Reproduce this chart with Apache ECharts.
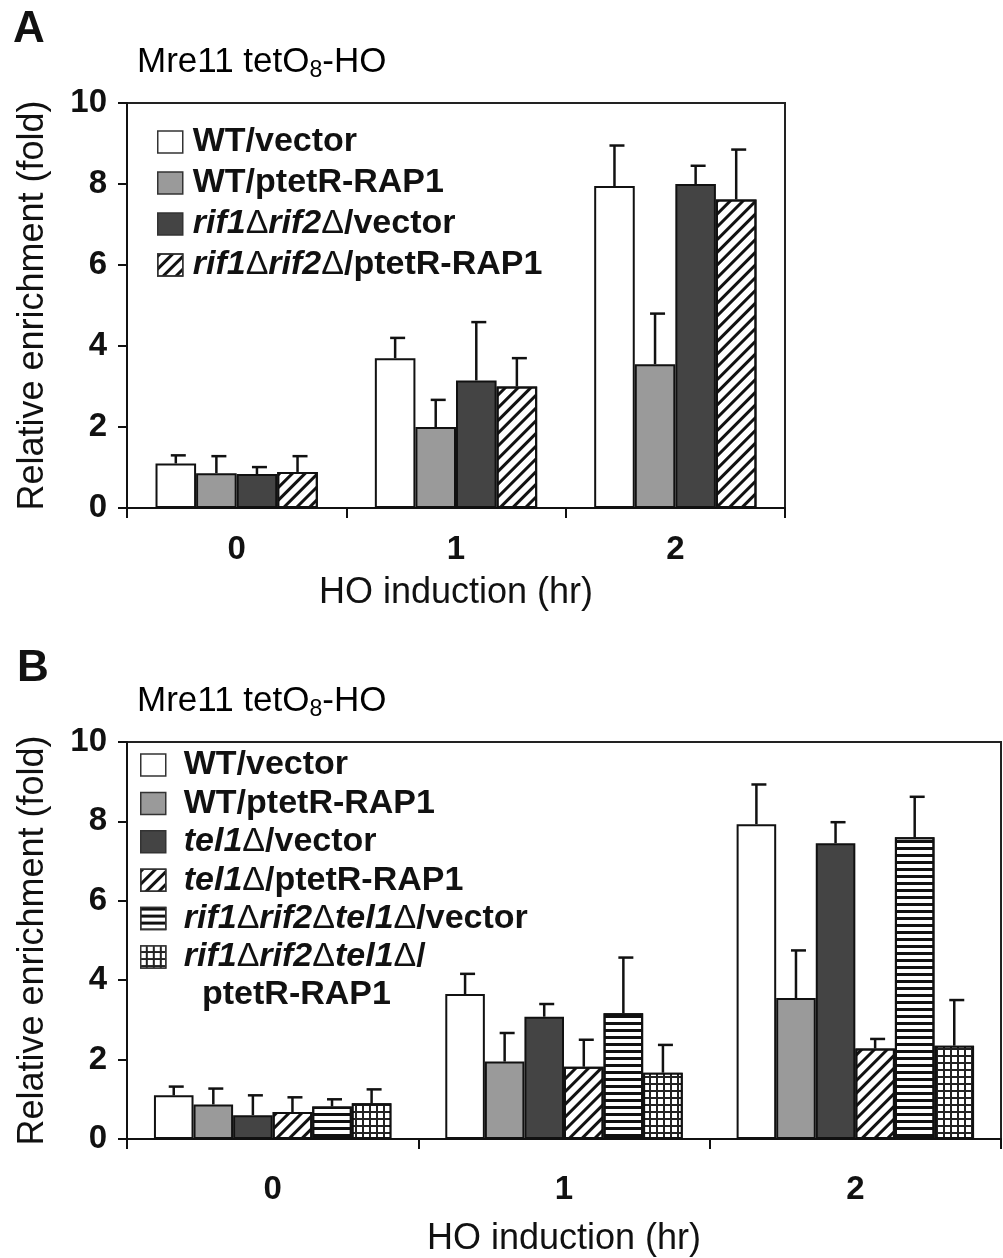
<!DOCTYPE html>
<html>
<head>
<meta charset="utf-8">
<script src="https://cdn.jsdelivr.net/npm/echarts@6/dist/echarts.min.js"></script>
<style>
  html, body { margin: 0; padding: 0; background: #fff; }
  #chart { width: 1003px; height: 1258px; }
</style>
</head>
<body>
<div id="chart"></div>
<script>
// HO induction time points (hr)
const categories = ['0', '1', '2'];

// Panel A: bar heights and upper error (fold)
const aNames = ['WT/vector', 'WT/ptetR-RAP1', 'rif1Δrif2Δ/vector', 'rif1Δrif2Δ/ptetR-RAP1'];
const aWtVector = [1.1, 3.7, 7.95];
const aWtVectorErr = [0.2, 0.5, 1.0];
const aWtRap1 = [0.86, 2.0, 3.55];
const aWtRap1Err = [0.42, 0.67, 1.25];
const aRifVector = [0.84, 3.15, 8.0];
const aRifVectorErr = [0.17, 1.44, 0.45];
const aRifRap1 = [0.89, 3.0, 7.62];
const aRifRap1Err = [0.39, 0.7, 1.23];

// Panel B
const bNames = ['WT/vector', 'WT/ptetR-RAP1', 'tel1Δ/vector', 'tel1Δ/ptetR-RAP1',
  'rif1Δrif2Δtel1Δ/vector', 'rif1Δrif2Δtel1Δ/ptetR-RAP1'];
const bWtVector = [1.1, 3.65, 7.93];
const bWtVectorErr = [0.22, 0.51, 1.0];
const bWtRap1 = [0.87, 1.95, 3.55];
const bWtRap1Err = [0.4, 0.72, 1.2];
const bTelVector = [0.6, 3.08, 7.45];
const bTelVectorErr = [0.5, 0.32, 0.53];
const bTelRap1 = [0.68, 1.82, 2.28];
const bTelRap1Err = [0.37, 0.68, 0.24];
const bTripleVector = [0.82, 3.17, 7.6];
const bTripleVectorErr = [0.18, 1.4, 1.02];
const bTripleRap1 = [0.9, 1.67, 2.35];
const bTripleRap1Err = [0.35, 0.7, 1.15];

const FONT = '"Liberation Sans", Arial, sans-serif';
const INK = '#111';

var chart = echarts.init(document.getElementById('chart'));

// fill styles
const fills = {
  white: { color: '#fff' },
  gray: { color: '#9a9a9a' },
  dark: { color: '#444' },
  diag: { color: '#fff', decal: { symbol: 'rect', symbolSize: 1, symbolKeepAspect: false, color: INK,
    dashArrayX: [1, 0], dashArrayY: [3, 6], rotation: -Math.PI / 4 } },
  hstripe: { color: '#fff', decal: { symbol: 'rect', symbolSize: 1, symbolKeepAspect: false, color: INK,
    dashArrayX: [1, 0], dashArrayY: [3, 4], rotation: 0 } },
  check: { color: '#222', decal: { symbol: 'rect', symbolSize: 1, symbolKeepAspect: false, color: '#fff',
    dashArrayX: [5, 2], dashArrayY: [5, 2], rotation: 0 } }
};

const gaps = [0.26, 0.185];

function barSeries(name, values, axis, fill) {
  return {
    name: name,
    type: 'bar',
    xAxisIndex: axis,
    yAxisIndex: axis,
    data: values,
    barGap: '0%',
    barCategoryGap: (gaps[axis] * 100) + '%',
    itemStyle: Object.assign({ borderColor: INK, borderWidth: 2 }, fill),
    emphasis: { disabled: true },
    z: 2
  };
}

function errSeries(values, errs, axis, idx, n) {
  return {
    name: 'err-' + axis + '-' + idx,
    type: 'custom',
    xAxisIndex: axis,
    yAxisIndex: axis,
    data: values.map((v, i) => [i, v, errs[i]]),
    encode: { x: 0, y: 1 },
    clip: false,
    z: 3,
    renderItem: function (params, api) {
      var v = api.value(1), e = api.value(2);
      var base = api.coord([api.value(0), v]);
      var top = api.coord([api.value(0), v + e]);
      var band = api.size([1, 0])[0];
      var w = band * (1 - gaps[axis]) / n;
      var x = base[0] - band * (1 - gaps[axis]) / 2 + w * (idx + 0.5);
      var st = { stroke: INK, lineWidth: 2.5 };
      return {
        type: 'group',
        children: [
          { type: 'line', shape: { x1: x, y1: base[1], x2: x, y2: top[1] }, style: st },
          { type: 'line', shape: { x1: x - 5, y1: top[1], x2: x + 10, y2: top[1] }, style: st }
        ]
      };
    }
  };
}

function richLabel(name) {
  return name.split(/(rif1|rif2|tel1|Δ)/).filter(s => s).map(function (s) {
    if (s === 'Δ') return '{d|Δ}';
    if (/^(rif|tel)\d$/.test(s)) return '{i|' + s + '}';
    return '{b|' + s + '}';
  }).join('');
}

const legendRich = {
  b: { fontFamily: FONT, fontWeight: 'bold', fontSize: 34, lineHeight: 30, color: INK },
  i: { fontFamily: FONT, fontWeight: 'bold', fontStyle: 'italic', fontSize: 34, lineHeight: 30, color: INK },
  d: { fontFamily: FONT, fontWeight: 'normal', fontSize: 34, lineHeight: 30, color: INK }
};

const titleRich = {
  a: { fontFamily: FONT, fontSize: 35, lineHeight: 40, color: INK },
  s: { fontFamily: FONT, fontSize: 23, lineHeight: 19, verticalAlign: 'bottom', color: INK }
};

function xAxis(grid, nameGap, labelMargin) {
  return {
    type: 'category', gridIndex: grid, data: categories,
    name: 'HO induction (hr)', nameLocation: 'middle', nameGap: nameGap,
    nameTextStyle: { fontFamily: FONT, fontSize: 36, color: INK },
    axisLine: { lineStyle: { color: INK, width: 2 } },
    axisTick: { show: true, length: 10, lineStyle: { color: INK, width: 2 } },
    axisLabel: { fontFamily: FONT, fontWeight: 'bold', fontSize: 33, color: INK, margin: labelMargin }
  };
}

function yAxis(grid) {
  return {
    type: 'value', gridIndex: grid, min: 0, max: 10, interval: 2,
    name: 'Relative enrichment (fold)', nameLocation: 'middle', nameGap: 76,
    nameTextStyle: { fontFamily: FONT, fontSize: 36, color: INK },
    axisLine: { show: true, lineStyle: { color: INK, width: 2 } },
    axisTick: { show: true, length: 9, lineStyle: { color: INK, width: 2 } },
    splitLine: { show: false },
    axisLabel: { fontFamily: FONT, fontWeight: 'bold', fontSize: 33, color: INK, margin: 20 }
  };
}

const aData = [aWtVector, aWtRap1, aRifVector, aRifRap1];
const aErr = [aWtVectorErr, aWtRap1Err, aRifVectorErr, aRifRap1Err];
const aFills = [fills.white, fills.gray, fills.dark, fills.diag];
const bData = [bWtVector, bWtRap1, bTelVector, bTelRap1, bTripleVector, bTripleRap1];
const bErr = [bWtVectorErr, bWtRap1Err, bTelVectorErr, bTelRap1Err, bTripleVectorErr, bTripleRap1Err];
const bFills = [fills.white, fills.gray, fills.dark, fills.diag, fills.hstripe, fills.check];

var series = [];
aNames.forEach((n, i) => series.push(barSeries('A ' + n, aData[i], 0, aFills[i])));
bNames.forEach((n, i) => series.push(barSeries('B ' + n, bData[i], 1, bFills[i])));
aNames.forEach((n, i) => series.push(errSeries(aData[i], aErr[i], 0, i, aNames.length)));
bNames.forEach((n, i) => series.push(errSeries(bData[i], bErr[i], 1, i, bNames.length)));

function legend(prefix, names, left, top, gap, pad) {
  return {
    orient: 'vertical', left: left, top: top, itemGap: gap,
    itemWidth: 25, itemHeight: 22, selectedMode: false,
    icon: 'rect',
    itemStyle: { borderWidth: 1.5, borderColor: '#333' },
    data: names.map(n => prefix + n),
    formatter: function (name) {
      var s = name.slice(2);
      if (s === 'rif1Δrif2Δtel1Δ/ptetR-RAP1') s = 'rif1Δrif2Δtel1Δ/';
      return richLabel(s);
    },
    textStyle: { padding: [0, 0, 0, pad], rich: legendRich }
  };
}

var option = {
  animation: false,
  backgroundColor: '#fff',
  grid: [
    { left: 127, top: 103, width: 658, height: 405, show: true, borderColor: '#222', borderWidth: 2 },
    { left: 127, top: 742, width: 874, height: 401, show: true, borderColor: '#222', borderWidth: 2 }
  ],
  xAxis: [xAxis(0, 67, 25), xAxis(1, 82, 34)],
  yAxis: [yAxis(0), yAxis(1)],
  legend: [
    legend('A ', aNames, 152, 120, 7, 5),
    legend('B ', bNames, 135, 743, 4.4, 13)
  ],
  graphic: [
    { type: 'text', left: 13, top: 8, style: { text: 'A', font: 'bold 44px ' + FONT, fill: INK } },
    { type: 'text', left: 17, top: 647, style: { text: 'B', font: 'bold 44px ' + FONT, fill: INK } },
    { type: 'text', left: 137, top: 45, style: { text: '{a|Mre11 tetO}{s|8}{a|-HO}', rich: titleRich } },
    { type: 'text', left: 137, top: 684, style: { text: '{a|Mre11 tetO}{s|8}{a|-HO}', rich: titleRich } },
    { type: 'text', left: 202, top: 978, style: { text: 'ptetR-RAP1', font: 'bold 34px ' + FONT, fill: INK } }
  ],
  series: series
};

chart.setOption(option);
</script>
</body>
</html>
